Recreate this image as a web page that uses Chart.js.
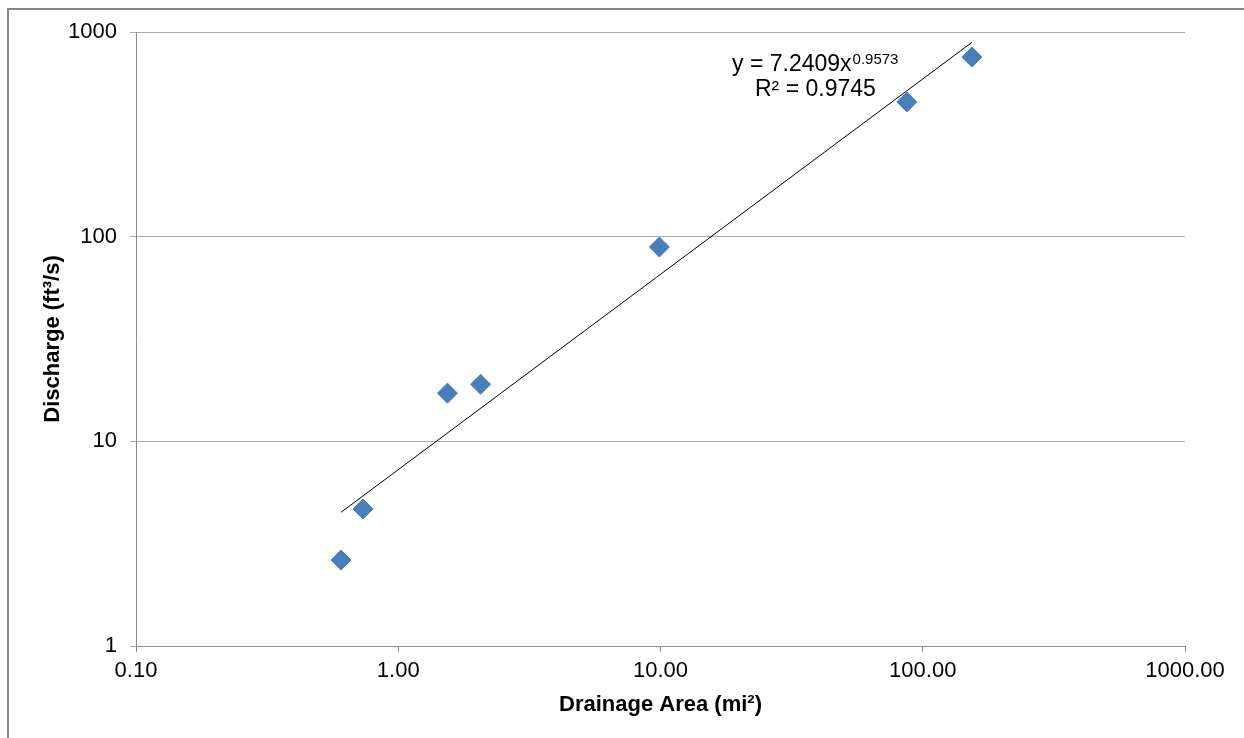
<!DOCTYPE html>
<html>
<head>
<meta charset="utf-8">
<title>Discharge vs Drainage Area</title>
<script src="https://cdn.jsdelivr.net/npm/chart.js@4/dist/chart.umd.min.js"></script>
<style>
  html, body { margin: 0; padding: 0; background: #fff; }
  #wrap { width: 1244px; height: 738px; }
</style>
</head>
<body>
<div id="wrap"><canvas id="dischargeChart" width="1244" height="738"></canvas></div>
<script>
// drainage area (mi2) and discharge (ft3/s)
const drainageArea = [0.605, 0.734, 1.54, 2.06, 9.9, 87, 154];
const discharge = [2.63, 4.67, 17.2, 19.0, 89, 455, 754];

// power trendline end points
const trendX = [0.605, 154];
const trendY = [4.5, 890];

const xTicks = [0.1, 1, 10, 100, 1000];
const yTicks = [1, 10, 100, 1000];

const equationText = "y = 7.2409x";
const equationPower = "0.9573";
const r2Text = "R\u00b2 = 0.9745";

const fontFamily = "'Liberation Sans', Arial, sans-serif";
const gridColor = "#ABABAB";
const axisColor = "#8C8C8C";

function toPoints(xs, ys) {
  return xs.map((x, i) => ({ x: x, y: ys[i] }));
}

// outer frame and the trendline label
const framePlugin = {
  id: "frame",
  beforeDraw(chart) {
    const ctx = chart.ctx;
    ctx.save();
    ctx.fillStyle = "#fff";
    ctx.fillRect(0, 0, chart.width, chart.height);
    ctx.strokeStyle = "#858585";
    ctx.lineWidth = 2;
    ctx.strokeRect(8, 9, chart.width + 10, chart.height + 10);
    ctx.restore();
  },
  afterDraw(chart) {
    const ctx = chart.ctx;
    ctx.save();
    ctx.fillStyle = "#000";
    ctx.textBaseline = "alphabetic";
    ctx.font = "23px " + fontFamily;
    ctx.fillText(equationText, 732, 71);
    const w = ctx.measureText(equationText).width;
    ctx.font = "15px " + fontFamily;
    ctx.fillText(equationPower, 732 + w + 1, 64);
    ctx.font = "23px " + fontFamily;
    ctx.fillText(r2Text, 755, 96);
    ctx.restore();
  }
};

new Chart(document.getElementById("dischargeChart"), {
  type: "scatter",
  data: {
    datasets: [
      {
        label: "Discharge",
        data: toPoints(drainageArea, discharge),
        pointStyle: "rectRot",
        pointRadius: 10,
        pointBackgroundColor: "#4A7EBB",
        pointBorderColor: "#4A7EBB",
        pointBorderWidth: 1,
        showLine: false
      },
      {
        label: "Power trendline",
        data: toPoints(trendX, trendY),
        showLine: true,
        borderColor: "#000",
        borderWidth: 1,
        pointRadius: 0
      }
    ]
  },
  options: {
    responsive: false,
    animation: false,
    layout: { padding: { left: 40, top: 32, right: 59, bottom: 20 } },
    plugins: {
      legend: { display: false },
      tooltip: { enabled: false }
    },
    scales: {
      x: {
        type: "logarithmic",
        min: 0.1,
        max: 1000,
        afterBuildTicks: scale => { scale.ticks = xTicks.map(v => ({ value: v })); },
        afterFit: scale => { scale.height = 72; },
        ticks: {
          autoSkip: false,
          maxRotation: 0,
          padding: 6,
          color: "#000",
          font: { family: fontFamily, size: 22 },
          callback: v => Number(v).toFixed(2)
        },
        grid: { drawOnChartArea: false, drawTicks: true, tickLength: 6, color: axisColor },
        border: { color: axisColor, width: 1 },
        title: {
          display: true,
          text: "Drainage Area (mi\u00b2)",
          color: "#000",
          padding: 0,
          font: { family: fontFamily, size: 22, weight: "bold" }
        }
      },
      y: {
        type: "logarithmic",
        min: 1,
        max: 1000,
        afterBuildTicks: scale => { scale.ticks = yTicks.map(v => ({ value: v })); },
        afterFit: scale => { scale.width = 96; },
        ticks: {
          autoSkip: false,
          padding: 13,
          color: "#000",
          font: { family: fontFamily, size: 22 },
          callback: v => String(v)
        },
        grid: { color: gridColor, tickLength: 6, lineWidth: 1 },
        border: { color: axisColor, width: 1 },
        title: {
          display: true,
          text: "Discharge (ft\u00b3/s)",
          color: "#000",
          padding: 0,
          font: { family: fontFamily, size: 22, weight: "bold" }
        }
      }
    }
  },
  plugins: [framePlugin]
});
</script>
</body>
</html>
